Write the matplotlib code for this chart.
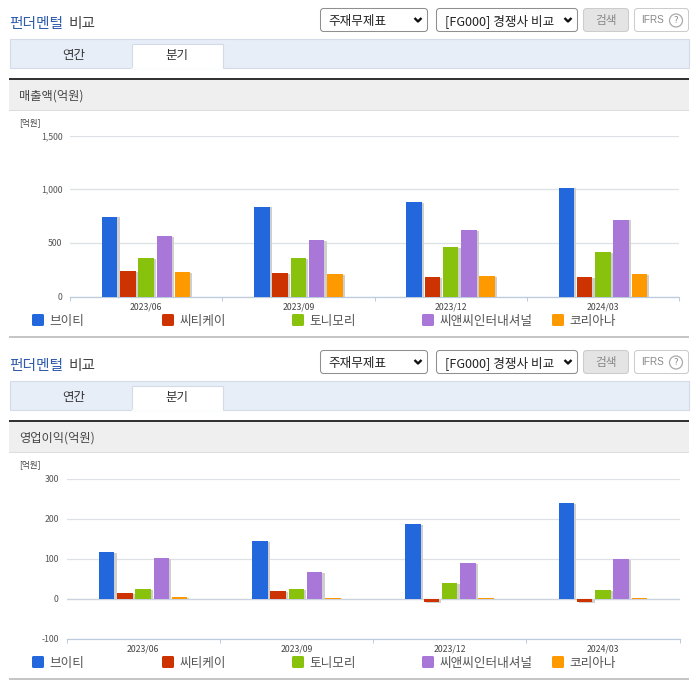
import matplotlib
matplotlib.use("Agg")
import matplotlib.pyplot as plt
import matplotlib.patheffects as pe
from matplotlib.patches import Rectangle, FancyBboxPatch, Circle

plt.rcParams['font.family'] = ['Noto Sans CJK KR', 'DejaVu Sans']

quarters = ['2023/06', '2023/09', '2023/12', '2024/03']
companies = ['브이티', '씨티케이', '토니모리', '씨앤씨인터내셔널', '코리아나']
colors = ['#2268dc', '#cc3300', '#88c20c', '#a877d8', '#ff9900']

revenue_vt = [745, 837, 883, 1014]
revenue_ctk = [240, 222, 184, 184]
revenue_tony = [361, 361, 464, 417]
revenue_cnc = [566, 529, 622, 716]
revenue_coreana = [231, 212, 194, 212]

profit_vt = [117, 144, 187, 239]
profit_ctk = [14, 19, -9, -9]
profit_tony = [24, 24, 39, 22]
profit_cnc = [102, 67, 89, 99]
profit_coreana = [4, 2, 2, 2]

revenue = [revenue_vt, revenue_ctk, revenue_tony, revenue_cnc, revenue_coreana]
profit = [profit_vt, profit_ctk, profit_tony, profit_cnc, profit_coreana]

W, H = 696, 684
fig = plt.figure(figsize=(W / 100, H / 100), dpi=100, facecolor='white')
bg = fig.add_axes([0, 0, 1, 1])
bg.set_xlim(0, W)
bg.set_ylim(H, 0)
bg.axis('off')

TEXT = '#444444'


def rect(x0, y0, x1, y1, fc, ec='none', lw=0.0, z=1):
    bg.add_patch(Rectangle((x0, y0), x1 - x0, y1 - y0, fc=fc, ec=ec, lw=lw, zorder=z))


def rbox(x0, y0, x1, y1, fc, ec):
    bg.add_patch(FancyBboxPatch((x0 + 2.5, y0 + 2.5), x1 - x0 - 5, y1 - y0 - 5,
                                boxstyle='round,pad=2,rounding_size=3',
                                fc=fc, ec=ec, lw=0.75, zorder=2))


def chevron(x, y):
    bg.plot([x - 3.5, x, x + 3.5], [y - 2, y + 1.5, y - 2], color='#111111', lw=1.7,
            solid_capstyle='butt', zorder=3)


def section(dy, label):
    bg.text(9.5, 24 + dy, '펀더멘털', color='#2f5cac', fontsize=10.6, fontweight='medium',
            va='center', ha='left')
    bg.text(69, 24 + dy, '비교', color='#444444', fontsize=10.6, fontweight='medium',
            va='center', ha='left')
    rbox(320, 8 + dy, 428, 32 + dy, 'white', '#8f8f8f')
    bg.text(328, 21.5 + dy, '주재무제표', color='#222222', fontsize=9.1, va='center', zorder=3)
    chevron(418, 20 + dy)
    rbox(436, 8 + dy, 578, 32 + dy, 'white', '#8f8f8f')
    bg.text(445, 21.5 + dy, '[FG000] 경쟁사 비교', color='#222222', fontsize=9.1, va='center', zorder=3)
    chevron(568, 20 + dy)
    rbox(583, 8 + dy, 629, 32 + dy, '#e4e4e4', '#cccccc')
    bg.text(606, 20.5 + dy, '검색', color='#888888', fontsize=8.4, ha='center', va='center', zorder=3)
    rbox(634, 8 + dy, 689, 32 + dy, 'white', '#cccccc')
    bg.text(641, 20 + dy, 'IFRS', color='#888888', fontsize=7.2, va='center', zorder=3,
            family=['Liberation Sans'])
    bg.add_patch(Circle((676, 20.5 + dy), 6.5, fc='white', ec='#aaaaaa', lw=0.9, zorder=3))
    bg.text(676, 20.5 + dy, '?', color='#888888', fontsize=6.8, ha='center', va='center', zorder=4)

    rect(9.5, 38.5 + dy, 689, 67.5 + dy, '#e8eef8', '#d5dbe6', 0.8)
    rect(131.5, 43.5 + dy, 222.5, 68 + dy, 'white', '#d5dbe6', 0.8, z=2)
    bg.plot([132, 222], [68 + dy, 68 + dy], color='white', lw=1.0, zorder=3)
    bg.text(74, 55.5 + dy, '연간', color='#333333', fontsize=9.0, ha='center', va='center', zorder=3)
    bg.text(177, 56 + dy, '분기', color='#333333', fontsize=9.0, ha='center', va='center', zorder=3)

    rect(9, 80 + dy, 689, 110 + dy, '#efefef')
    rect(9, 78 + dy, 689, 80 + dy, '#333333')
    rect(9, 110 + dy, 689, 111 + dy, '#dddddd')
    bg.text(19, 96.5 + dy, label, color=TEXT, fontsize=8.8, va='center', zorder=3)
    bg.text(19.5, 123 + dy, '[억원]', color='#444444', fontsize=6.2, va='center', zorder=3)

    for name, col, x in zip(companies, colors, [32, 162, 292, 422, 552]):
        bg.add_patch(FancyBboxPatch((x + 1, 315 + dy), 10, 10, boxstyle='round,pad=1,rounding_size=1.5',
                                    fc=col, ec='none', zorder=3))
        bg.text(x + 17.5, 321 + dy, name, color='#555555', fontsize=9.1, va='center', zorder=3)
    rect(9, 336 + dy, 689, 338 + dy, '#c6c6c6')


def chart(left, right, top, bottom, series, ylim, yticks, ylabels):
    ax = fig.add_axes([left / W, 1 - bottom / H, (right - left) / W, (bottom - top) / H])
    ax.patch.set_alpha(0)
    ax.set_xlim(-0.5, 3.5)
    ax.set_ylim(*ylim)
    for s in ['top', 'left', 'right']:
        ax.spines[s].set_visible(False)
    ax.spines['bottom'].set_color('#bccade')
    ax.spines['bottom'].set_linewidth(0.9)
    ax.set_axisbelow(True)
    ax.grid(axis='y', color='#dde0e5', lw=0.9)
    ax.set_yticks(yticks)
    ax.set_yticklabels(ylabels)
    ax.tick_params(axis='y', length=0, pad=5.5, labelsize=6.3, labelcolor='#555555')
    ax.set_xticks(range(len(quarters)))
    ax.set_xticklabels(quarters)
    ax.tick_params(axis='x', which='major', length=0, pad=4.2, labelsize=6.3, labelcolor='#444444')
    ax.set_xticks([-0.5, 0.5, 1.5, 2.5, 3.5], minor=True)
    ax.tick_params(axis='x', which='minor', length=3, width=0.7, color='#bccade')
    if ylim[0] < 0:
        ax.axhline(0, color='#cbd3e0', lw=0.9, zorder=1)
    step = 18.2 / ((right - left) / 4)
    width = 15.5 / ((right - left) / 4)
    for i, (vals, col) in enumerate(zip(series, colors)):
        xs = [q + (i - 2) * step for q in range(len(quarters))]
        bars = ax.bar(xs, vals, width=width, color=col, zorder=3)
        for b in bars:
            b.set_path_effects([pe.SimplePatchShadow(offset=(1.6, -0.6), shadow_rgbFace='#cfcfcf', alpha=1.0),
                                pe.Normal()])
    return ax


section(0, '매출액(억원)')
section(342, '영업이익(억원)')

chart(70, 679, 135.5, 296.5, revenue, (0, 1500), [0, 500, 1000, 1500], ['0', '500', '1,000', '1,500'])
chart(66.5, 679.5, 478.5, 638.5, profit, (-100, 300), [-100, 0, 100, 200, 300],
      ['-100', '0', '100', '200', '300'])

fig.savefig('out.png', dpi=100)
